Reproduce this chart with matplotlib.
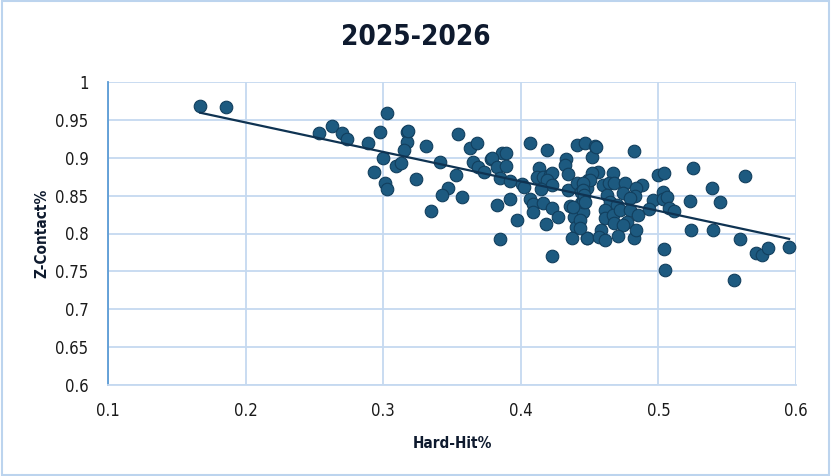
import numpy as np
import matplotlib
matplotlib.use("Agg")
import matplotlib.pyplot as plt
from matplotlib.patches import Rectangle

title = "2025-2026"
x_label = "Hard-Hit%"
y_label = "Z-Contact%"
x_ticks = [0.1, 0.2, 0.3, 0.4, 0.5, 0.6]
y_ticks = [0.6, 0.65, 0.7, 0.75, 0.8, 0.85, 0.9, 0.95, 1.0]
x_tick_labels = ["0.1", "0.2", "0.3", "0.4", "0.5", "0.6"]
y_tick_labels = ["0.6", "0.65", "0.7", "0.75", "0.8", "0.85", "0.9", "0.95", "1"]

hard_hit = [
    0.167, 0.186, 0.253, 0.263, 0.270, 0.274, 0.289, 0.298, 0.303, 0.300,
    0.293, 0.301, 0.303, 0.309, 0.313, 0.317, 0.317, 0.315, 0.318, 0.331,
    0.354, 0.363, 0.368, 0.341, 0.365, 0.369, 0.373, 0.378, 0.353, 0.324,
    0.347, 0.343, 0.357, 0.335, 0.407, 0.419, 0.386, 0.389, 0.379, 0.383,
    0.389, 0.441, 0.447, 0.433, 0.432, 0.434, 0.413, 0.412, 0.416, 0.421,
    0.423, 0.419, 0.423, 0.415, 0.385, 0.392, 0.401, 0.402, 0.434, 0.441,
    0.444, 0.449, 0.448, 0.392, 0.383, 0.407, 0.409, 0.416, 0.409, 0.423,
    0.427, 0.418, 0.397, 0.436, 0.439, 0.440, 0.444, 0.445, 0.385, 0.437,
    0.448, 0.423, 0.482, 0.525, 0.563, 0.539, 0.523, 0.545, 0.524, 0.540,
    0.559, 0.571, 0.575, 0.580, 0.595, 0.555, 0.504, 0.505, 0.500, 0.504,
    0.503, 0.496, 0.503, 0.506, 0.493, 0.508, 0.511, 0.452, 0.454, 0.455,
    0.456, 0.452, 0.450, 0.467, 0.445, 0.460, 0.464, 0.468, 0.476, 0.488,
    0.484, 0.445, 0.445, 0.463, 0.474, 0.483, 0.479, 0.465, 0.470, 0.461,
    0.461, 0.467, 0.472, 0.479, 0.485, 0.477, 0.468, 0.474, 0.458, 0.448,
    0.457, 0.461, 0.471, 0.482, 0.484, 0.443, 0.443, 0.446, 0.447, 0.438,
]
z_contact = [
    0.968, 0.967, 0.933, 0.942, 0.933, 0.925, 0.919, 0.934, 0.959, 0.900,
    0.881, 0.867, 0.859, 0.889, 0.893, 0.934, 0.921, 0.910, 0.935, 0.916,
    0.931, 0.913, 0.920, 0.895, 0.895, 0.888, 0.881, 0.898, 0.877, 0.872,
    0.860, 0.851, 0.848, 0.830, 0.920, 0.910, 0.906, 0.906, 0.900, 0.888,
    0.889, 0.917, 0.920, 0.898, 0.890, 0.879, 0.887, 0.875, 0.875, 0.877,
    0.880, 0.871, 0.864, 0.859, 0.873, 0.869, 0.865, 0.861, 0.858, 0.867,
    0.855, 0.871, 0.860, 0.846, 0.838, 0.846, 0.839, 0.840, 0.828, 0.834,
    0.822, 0.813, 0.818, 0.836, 0.822, 0.809, 0.840, 0.828, 0.793, 0.794,
    0.794, 0.770, 0.909, 0.887, 0.876, 0.860, 0.843, 0.842, 0.805, 0.805,
    0.793, 0.774, 0.772, 0.781, 0.782, 0.739, 0.780, 0.752, 0.877, 0.880,
    0.855, 0.844, 0.846, 0.848, 0.832, 0.834, 0.830, 0.901, 0.916, 0.914,
    0.881, 0.880, 0.871, 0.880, 0.867, 0.864, 0.867, 0.867, 0.867, 0.864,
    0.860, 0.858, 0.842, 0.851, 0.854, 0.850, 0.847, 0.842, 0.838, 0.831,
    0.821, 0.825, 0.831, 0.831, 0.825, 0.815, 0.814, 0.811, 0.805, 0.794,
    0.796, 0.792, 0.797, 0.794, 0.805, 0.818, 0.807, 0.851, 0.842, 0.835,
]

grid_color = "#c5d9f0"
point_face = "#1d5a80"
point_edge = "#123f5e"
line_color = "#0f3352"
text_color = "#0e1a2e"
font = ["DejaVu Sans"]
stretch = "condensed"

fig = plt.figure(figsize=(8.31, 4.76), dpi=100)
ax = fig.add_axes([108 / 831, 1 - 385 / 476, (796 - 108) / 831, (385 - 82) / 476])

x = np.array(hard_hit)
y = np.array(z_contact)
slope, intercept = np.polyfit(x, y, 1)
xl = np.array([x.min(), x.max()])

ax.scatter(x, y, s=82, color=point_face, edgecolors=point_edge, linewidths=0.8, zorder=3)
ax.plot(xl, slope * xl + intercept, color=line_color, lw=1.6, zorder=4)

ax.set_xlim(0.1, 0.6)
ax.set_ylim(0.6, 1.0)
ax.set_xticks(x_ticks)
ax.set_xticklabels(x_tick_labels)
ax.set_yticks(y_ticks)
ax.set_yticklabels(y_tick_labels)
ax.grid(True, color=grid_color, lw=1.3, zorder=0)
ax.set_axisbelow(True)
for side in ["top", "right"]:
    ax.spines[side].set_visible(False)
ax.spines["left"].set_color("#5b9bd5")
ax.spines["left"].set_linewidth(1.3)
ax.spines["bottom"].set_color(grid_color)
ax.spines["bottom"].set_linewidth(1.3)
ax.tick_params(axis="x", length=0, pad=12, labelsize=12, colors="#1a1a1a")
ax.tick_params(axis="y", length=0, pad=14, labelsize=12, colors="#1a1a1a")
for lab in ax.get_xticklabels() + ax.get_yticklabels():
    lab.set_family(font)
    lab.set_stretch(stretch)

ax.set_xlabel(x_label, fontsize=11, fontweight="bold", family=font, stretch=stretch,
              color=text_color, labelpad=12)
ax.set_ylabel(y_label, fontsize=11, fontweight="bold", family=font, stretch=stretch,
              color=text_color, labelpad=4)
fig.text(0.5, 1 - 37 / 476, title, ha="center", va="center", fontsize=20,
         fontweight="bold", family=font, stretch=stretch, color=text_color)

fig.patches.append(Rectangle((0.002, 0.003), 0.996, 0.994, transform=fig.transFigure,
                             fill=False, edgecolor="#bcd4ee", lw=1.5))

fig.savefig("out.png", dpi=100, facecolor="white")
